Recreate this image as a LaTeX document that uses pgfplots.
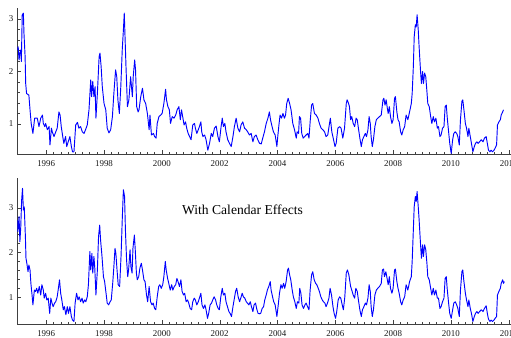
\documentclass[border=0pt]{standalone}
\usepackage{pgfplots}
\pgfplotsset{compat=1.18}
\usepackage{fontspec}
\setmainfont{Liberation Serif}

\pgfplotstableread{
x y
1995.00 2.41
1995.03 2.47
1995.06 2.22
1995.09 2.35
1995.12 2.41
1995.14 2.19
1995.17 3.08
1995.21 3.11
1995.23 2.73
1995.27 2.28
1995.29 1.77
1995.32 1.58
1995.40 1.55
1995.44 1.27
1995.48 1.01
1995.54 0.82
1995.60 1.11
1995.69 1.11
1995.75 0.95
1995.81 1.11
1995.87 1.17
1995.90 1.01
1995.95 0.95
1995.98 1.01
1996.04 0.89
1996.10 0.95
1996.13 0.60
1996.18 0.92
1996.21 0.85
1996.27 0.76
1996.33 0.85
1996.38 0.92
1996.44 1.23
1996.48 1.17
1996.52 0.95
1996.58 0.73
1996.61 0.63
1996.67 0.76
1996.71 0.57
1996.76 0.66
1996.82 0.76
1996.87 0.57
1996.91 0.47
1996.96 0.47
1997.02 0.98
1997.08 1.03
1997.13 0.92
1997.19 0.95
1997.25 0.85
1997.31 0.82
1997.36 0.89
1997.42 0.98
1997.48 1.27
1997.54 1.84
1997.57 1.52
1997.61 1.81
1997.65 1.52
1997.69 1.71
1997.72 1.11
1997.77 1.58
1997.83 2.28
1997.86 2.35
1997.90 2.09
1997.94 1.71
1998.00 1.39
1998.06 1.27
1998.11 0.92
1998.17 0.83
1998.23 0.89
1998.29 1.14
1998.34 1.58
1998.40 2.03
1998.44 1.90
1998.48 1.46
1998.53 1.20
1998.58 1.71
1998.63 2.41
1998.67 2.79
1998.70 3.11
1998.73 2.60
1998.76 2.09
1998.81 1.33
1998.86 1.46
1998.92 1.90
1998.98 1.52
1999.01 1.90
1999.06 2.22
1999.09 2.03
1999.13 1.33
1999.18 1.23
1999.21 1.27
1999.27 1.52
1999.33 1.68
1999.38 1.46
1999.44 1.39
1999.50 1.20
1999.56 0.89
1999.59 1.17
1999.64 0.79
1999.71 0.82
1999.75 0.76
1999.80 0.73
1999.84 1.01
1999.90 1.14
1999.96 1.17
2000.01 1.20
2000.07 1.39
2000.13 1.66
2000.16 1.46
2000.21 1.33
2000.26 1.27
2000.30 1.01
2000.36 1.14
2000.42 1.11
2000.48 1.17
2000.53 1.27
2000.59 1.33
2000.64 1.08
2000.68 1.27
2000.73 1.11
2000.77 0.98
2000.82 1.04
2000.86 0.92
2000.91 0.82
2000.96 0.76
2001.01 0.70
2001.07 0.98
2001.13 1.01
2001.16 0.92
2001.21 0.82
2001.26 0.89
2001.30 0.95
2001.35 1.04
2001.38 0.85
2001.42 0.76
2001.48 0.79
2001.53 0.70
2001.59 0.50
2001.65 0.63
2001.71 0.82
2001.76 0.76
2001.82 0.92
2001.88 0.96
2001.94 0.76
2001.99 0.66
2002.05 0.95
2002.09 1.11
2002.13 0.95
2002.18 1.01
2002.22 0.85
2002.28 0.70
2002.34 0.63
2002.40 0.57
2002.46 0.76
2002.51 0.95
2002.57 1.11
2002.63 0.92
2002.69 0.85
2002.74 0.98
2002.80 1.04
2002.86 0.92
2002.92 0.89
2002.97 0.85
2003.03 0.79
2003.09 0.82
2003.15 0.66
2003.20 0.76
2003.26 0.79
2003.32 0.70
2003.38 0.63
2003.44 0.62
2003.49 0.73
2003.55 0.85
2003.61 1.01
2003.67 1.11
2003.72 1.23
2003.76 1.08
2003.80 0.98
2003.86 0.85
2003.92 0.79
2003.98 0.57
2004.01 0.76
2004.05 0.98
2004.09 1.17
2004.14 1.11
2004.19 1.20
2004.24 1.11
2004.28 1.17
2004.32 1.39
2004.37 1.49
2004.42 1.39
2004.47 1.27
2004.53 1.01
2004.59 0.89
2004.65 0.73
2004.68 0.85
2004.73 0.82
2004.76 1.14
2004.80 1.11
2004.84 0.82
2004.89 0.73
2004.94 0.76
2004.99 0.79
2005.05 0.82
2005.09 0.73
2005.13 1.04
2005.18 1.36
2005.22 1.39
2005.28 1.20
2005.34 1.17
2005.40 1.11
2005.45 1.01
2005.51 0.92
2005.57 0.89
2005.63 0.85
2005.68 0.76
2005.74 0.79
2005.80 1.01
2005.83 1.11
2005.88 0.85
2005.94 0.70
2005.99 0.57
2006.03 0.63
2006.09 0.92
2006.15 0.95
2006.20 0.92
2006.26 0.73
2006.32 0.92
2006.38 1.39
2006.41 1.46
2006.46 1.39
2006.49 1.33
2006.53 1.08
2006.57 1.14
2006.62 1.01
2006.67 0.95
2006.72 1.11
2006.76 1.08
2006.80 0.92
2006.85 0.73
2006.90 0.57
2006.94 0.70
2006.99 0.76
2007.04 0.82
2007.08 0.76
2007.13 0.89
2007.17 1.14
2007.21 1.01
2007.24 0.76
2007.28 0.57
2007.32 0.70
2007.37 0.95
2007.42 1.08
2007.47 1.11
2007.53 1.14
2007.59 1.17
2007.65 1.46
2007.68 1.49
2007.72 1.36
2007.76 1.46
2007.80 1.30
2007.83 1.20
2007.87 1.33
2007.91 1.14
2007.96 1.01
2008.00 1.08
2008.05 1.49
2008.08 1.52
2008.13 1.23
2008.17 1.08
2008.21 1.04
2008.26 0.85
2008.30 0.79
2008.35 0.89
2008.40 0.95
2008.45 1.17
2008.51 1.08
2008.57 1.23
2008.63 1.39
2008.66 1.58
2008.70 2.09
2008.73 2.66
2008.77 2.89
2008.80 2.85
2008.83 3.08
2008.87 2.79
2008.90 2.47
2008.95 2.00
2008.98 1.77
2009.02 2.00
2009.05 1.77
2009.09 1.97
2009.13 1.90
2009.17 1.62
2009.20 1.39
2009.25 1.33
2009.30 1.14
2009.34 1.01
2009.39 1.14
2009.43 1.04
2009.48 1.11
2009.53 0.92
2009.57 0.95
2009.62 0.76
2009.66 0.79
2009.71 0.92
2009.76 0.95
2009.80 1.33
2009.84 1.36
2009.87 1.14
2009.92 0.85
2009.96 0.63
2010.01 0.44
2010.06 0.70
2010.10 0.82
2010.15 0.85
2010.20 0.82
2010.24 0.76
2010.29 0.60
2010.33 1.08
2010.38 1.43
2010.41 1.46
2010.45 1.27
2010.50 1.01
2010.54 0.92
2010.59 0.76
2010.62 0.92
2010.67 0.76
2010.71 0.63
2010.76 0.47
2010.81 0.57
2010.85 0.63
2010.90 0.66
2010.94 0.63
2010.99 0.66
2011.05 0.70
2011.11 0.66
2011.16 0.73
2011.22 0.76
2011.26 0.63
2011.30 0.50
2011.35 0.47
2011.39 0.50
2011.44 0.47
2011.49 0.50
2011.53 0.54
2011.58 0.60
2011.61 0.98
2011.66 1.04
2011.71 1.08
2011.74 1.17
2011.79 1.23
2011.82 1.27
}\topdata

\pgfplotstableread{
x y
1995.00 2.73
1995.02 2.47
1995.06 2.80
1995.09 2.24
1995.12 2.58
1995.15 3.17
1995.18 3.43
1995.21 2.95
1995.24 3.02
1995.28 2.35
1995.30 1.87
1995.33 1.76
1995.37 1.57
1995.40 1.72
1995.44 1.61
1995.47 1.31
1995.51 1.05
1995.54 0.83
1995.59 1.16
1995.63 1.13
1995.67 1.20
1995.71 1.09
1995.76 1.24
1995.81 1.05
1995.85 1.28
1995.90 1.16
1995.93 0.98
1995.98 1.09
1996.02 0.94
1996.07 0.98
1996.12 0.64
1996.16 0.98
1996.20 0.87
1996.24 0.79
1996.29 0.87
1996.33 0.90
1996.38 1.01
1996.43 1.24
1996.46 1.39
1996.50 1.09
1996.54 0.94
1996.59 0.72
1996.63 0.79
1996.68 0.61
1996.73 0.79
1996.77 0.64
1996.82 0.79
1996.87 0.57
1996.91 0.49
1996.96 0.46
1997.00 0.87
1997.05 1.09
1997.10 0.94
1997.14 1.01
1997.19 0.90
1997.24 0.98
1997.28 0.87
1997.33 0.94
1997.37 0.90
1997.42 1.01
1997.46 1.28
1997.51 2.02
1997.54 1.61
1997.58 1.98
1997.61 1.54
1997.65 1.91
1997.68 1.65
1997.72 1.05
1997.77 1.61
1997.81 2.35
1997.85 2.61
1997.88 2.28
1997.93 1.91
1997.98 1.46
1998.02 1.35
1998.07 1.09
1998.11 0.87
1998.16 0.83
1998.21 0.90
1998.25 0.94
1998.30 1.31
1998.34 1.68
1998.38 2.09
1998.41 1.98
1998.45 1.61
1998.49 1.28
1998.54 1.24
1998.59 1.94
1998.63 2.73
1998.67 3.40
1998.71 3.25
1998.74 2.50
1998.78 1.83
1998.82 1.46
1998.85 1.61
1998.90 2.06
1998.93 1.68
1998.97 1.54
1999.00 2.09
1999.05 2.39
1999.08 2.06
1999.12 1.54
1999.15 1.39
1999.20 1.46
1999.24 1.65
1999.29 1.76
1999.33 1.61
1999.38 1.39
1999.42 1.35
1999.47 1.05
1999.51 0.90
1999.56 1.24
1999.61 0.90
1999.66 0.83
1999.70 0.87
1999.75 0.75
1999.79 0.72
1999.84 1.01
1999.89 1.24
1999.93 1.28
1999.98 1.20
2000.03 1.28
2000.07 1.46
2000.12 1.80
2000.15 1.61
2000.20 1.42
2000.25 1.28
2000.29 1.16
2000.34 1.28
2000.38 1.16
2000.43 1.24
2000.48 1.28
2000.52 1.42
2000.56 1.35
2000.61 1.24
2000.66 1.39
2000.70 1.13
2000.75 1.05
2000.79 1.09
2000.84 0.90
2000.89 0.94
2000.93 0.87
2000.98 0.75
2001.03 0.72
2001.07 0.90
2001.12 0.98
2001.16 0.94
2001.21 0.83
2001.26 0.90
2001.30 0.98
2001.35 1.09
2001.39 0.83
2001.44 0.75
2001.49 0.83
2001.53 0.72
2001.58 0.53
2001.62 0.64
2001.67 0.83
2001.72 0.87
2001.76 0.94
2001.81 1.01
2001.86 0.94
2001.90 0.83
2001.95 0.75
2001.99 0.72
2002.04 1.01
2002.09 1.20
2002.13 1.05
2002.18 1.09
2002.22 0.90
2002.27 0.79
2002.32 0.68
2002.36 0.64
2002.41 0.57
2002.46 0.79
2002.50 0.94
2002.55 1.13
2002.59 1.20
2002.64 1.01
2002.69 0.90
2002.73 0.98
2002.78 1.09
2002.82 1.01
2002.87 0.98
2002.92 0.90
2002.96 0.87
2003.01 0.83
2003.06 0.90
2003.10 0.79
2003.15 0.68
2003.19 0.83
2003.24 0.87
2003.29 0.72
2003.33 0.64
2003.38 0.63
2003.42 0.64
2003.47 0.75
2003.52 0.79
2003.56 0.94
2003.61 1.05
2003.65 1.16
2003.70 1.24
2003.75 1.35
2003.78 1.16
2003.83 1.01
2003.87 0.90
2003.92 0.83
2003.98 0.57
2004.02 0.79
2004.07 1.09
2004.12 1.28
2004.16 1.20
2004.21 1.31
2004.25 1.20
2004.30 1.35
2004.35 1.61
2004.38 1.65
2004.42 1.50
2004.46 1.39
2004.51 1.16
2004.55 1.01
2004.60 0.90
2004.65 0.75
2004.69 0.90
2004.74 0.87
2004.77 1.20
2004.81 1.09
2004.85 0.83
2004.90 0.75
2004.95 0.83
2004.99 0.87
2005.04 0.79
2005.09 0.72
2005.13 1.16
2005.18 1.50
2005.22 1.57
2005.27 1.39
2005.32 1.31
2005.36 1.28
2005.41 1.20
2005.45 1.13
2005.50 1.01
2005.55 0.94
2005.59 0.90
2005.64 0.87
2005.68 0.79
2005.73 0.87
2005.78 0.98
2005.82 1.20
2005.87 1.05
2005.92 0.79
2005.96 0.64
2006.01 0.53
2006.05 0.68
2006.10 0.94
2006.15 1.01
2006.19 0.98
2006.24 0.83
2006.28 0.72
2006.33 1.01
2006.38 1.54
2006.42 1.61
2006.47 1.50
2006.53 1.24
2006.57 1.16
2006.62 1.05
2006.67 0.98
2006.71 1.20
2006.76 1.13
2006.80 0.94
2006.85 0.72
2006.90 0.57
2006.94 0.72
2006.99 0.79
2007.04 0.87
2007.08 0.83
2007.13 0.98
2007.17 1.28
2007.21 1.13
2007.24 0.79
2007.28 0.57
2007.32 0.72
2007.37 1.05
2007.42 1.16
2007.47 1.20
2007.53 1.24
2007.59 1.31
2007.63 1.61
2007.67 1.63
2007.70 1.46
2007.75 1.57
2007.80 1.39
2007.83 1.28
2007.87 1.46
2007.91 1.20
2007.96 1.09
2008.00 1.20
2008.05 1.61
2008.08 1.63
2008.13 1.35
2008.17 1.20
2008.21 1.09
2008.26 0.90
2008.30 0.83
2008.35 0.94
2008.40 1.01
2008.45 1.28
2008.51 1.16
2008.57 1.35
2008.63 1.46
2008.66 1.80
2008.70 2.50
2008.73 3.02
2008.77 3.25
2008.80 3.14
2008.83 3.36
2008.87 3.02
2008.90 2.73
2008.95 2.17
2008.98 1.87
2009.02 2.17
2009.05 1.91
2009.09 2.17
2009.13 2.06
2009.17 1.76
2009.20 1.46
2009.25 1.39
2009.30 1.20
2009.34 1.05
2009.39 1.20
2009.43 1.05
2009.48 1.16
2009.53 0.98
2009.57 0.98
2009.62 0.75
2009.66 0.79
2009.71 0.90
2009.76 0.98
2009.80 1.42
2009.84 1.46
2009.87 1.20
2009.92 0.87
2009.96 0.64
2010.01 0.53
2010.06 0.72
2010.10 0.87
2010.15 0.90
2010.20 0.83
2010.24 0.75
2010.29 0.57
2010.33 1.16
2010.38 1.57
2010.41 1.61
2010.45 1.35
2010.50 1.09
2010.54 0.94
2010.59 0.79
2010.62 0.94
2010.67 0.75
2010.71 0.64
2010.76 0.46
2010.81 0.57
2010.85 0.64
2010.90 0.68
2010.94 0.64
2010.99 0.68
2011.05 0.72
2011.11 0.68
2011.16 0.75
2011.22 0.81
2011.26 0.64
2011.30 0.51
2011.35 0.46
2011.39 0.49
2011.44 0.46
2011.49 0.49
2011.53 0.53
2011.58 0.57
2011.61 1.05
2011.66 1.13
2011.71 1.20
2011.74 1.31
2011.79 1.39
2011.82 1.31
2011.85 1.35
}\bottomdata

\pgfplotsset{
  mystyle/.style={
    scale only axis,
    width=370.3pt,
    axis lines=left,
    axis line style={-, black!75},
    tick align=inside,
    tick style={black!75},
    major tick length=3pt,
    minor tick length=1.8pt,
    xmin=1995, xmax=2012.08,
    xtick={1996,1998,...,2012},
    minor x tick num=7,
    ytick={1,2,3},
    minor y tick num=4,
    /pgf/number format/assume math mode=true,
    /pgf/number format/1000 sep={},
    tick label style={font=\fontsize{6.7}{7}\selectfont, black!90},
    yticklabel style={xshift=0.5pt},
    xticklabel style={yshift=-1pt},
  },
}

\begin{document}
\begin{tikzpicture}
\useasboundingbox (0,0) rectangle (383.25pt,253.5pt);
\begin{axis}[mystyle, at={(12.98pt,137.8pt)}, anchor=south west,
  height=109.35pt, ymin=0.423, ymax=3.2]
\addplot[blue, line width=0.7pt, line join=round] table[x=x,y=y] {\topdata};
\end{axis}
\begin{axis}[mystyle, at={(12.98pt,10.3pt)}, anchor=south west,
  height=109.7pt, ymin=0.397, ymax=3.663]
\addplot[blue, line width=0.7pt, line join=round] table[x=x,y=y] {\bottomdata};
\node[font=\fontsize{10.2}{12}\selectfont, black] at (axis cs:2002.79,2.96) {With Calendar Effects};
\end{axis}
\end{tikzpicture}
\end{document}
